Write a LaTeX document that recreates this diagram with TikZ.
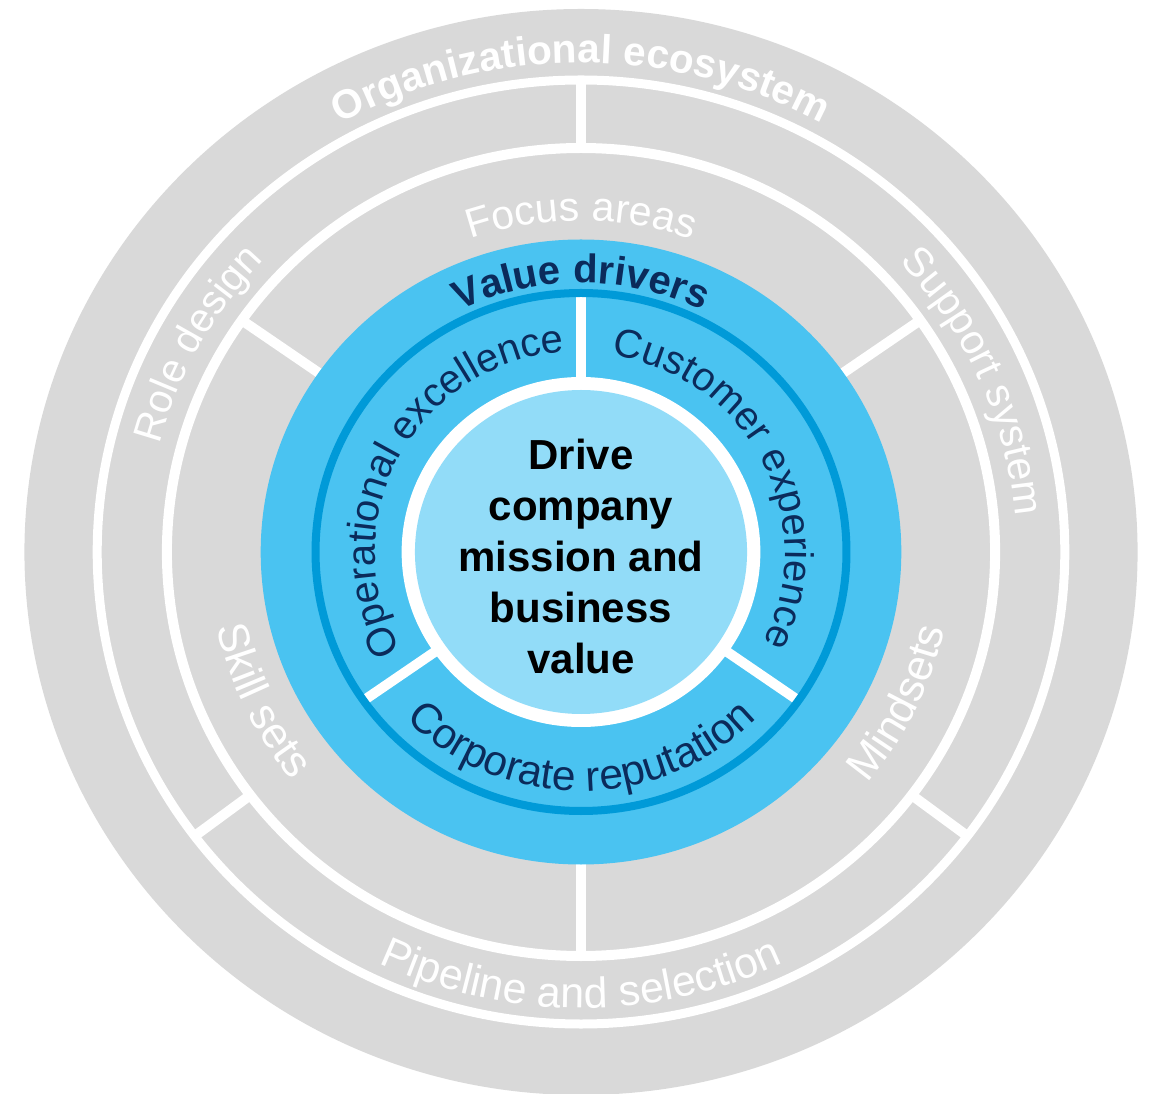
\documentclass[tikz,border=0pt]{standalone}
\usepackage{fontspec}
\setmainfont{Liberation Sans}
\usetikzlibrary{decorations.text}

\definecolor{ringgray}{HTML}{D9D9D9}
\definecolor{skyband}{HTML}{4AC3F1}
\definecolor{deepline}{HTML}{009AD8}
\definecolor{corefill}{HTML}{92DCF8}
\definecolor{navy}{HTML}{0B2B5B}

\tikzset{
  divider/.style={white, line width=10pt},
  ringline/.style={white, line width=9pt},
}

% label read clockwise over the arc (letters face outwards)
% #1 baseline radius, #2 centre angle, #3 colour, #4 font, #5 text
\newcommand\outerlabel[5]{%
  \path[decorate, decoration={text along path, text align=center,
      text color=#3, text={|#4|#5}}]
    (#2+70:#1) arc[start angle=#2+70, end angle=#2-70, radius=#1];}
% label read anticlockwise under the arc (letters face the centre)
\newcommand\innerlabel[5]{%
  \path[decorate, decoration={text along path, text align=center,
      text color=#3, text={|#4|#5}}]
    (#2-70:#1) arc[start angle=#2-70, end angle=#2+70, radius=#1];}

\newcommand\lbl[1]{\fontsize{#1}{#1}\selectfont}
\newcommand\lblb[1]{\bfseries\fontsize{#1}{#1}\selectfont}

\begin{document}
\begin{tikzpicture}[x=1pt, y=1pt]
\useasboundingbox (0,0) rectangle (1153,1093);
\begin{scope}[shift={(581,541)}, xscale=1.025]
  % grey rings
  \fill[ringgray] (0,0) circle[radius=543];
  \foreach \a in {90,217,323} \draw[divider] (\a:400) -- (\a:476);
  \foreach \a in {35,145,270} \draw[divider] (\a:300) -- (\a:408);
  \draw[ringline] (0,0) circle[radius=472];
  \draw[ringline, line width=10pt] (0,0) circle[radius=404];

  % blue value-driver rings
  \fill[skyband] (0,0) circle[radius=312.5];
  \foreach \a in {90,215,325} \draw[divider] (\a:170) -- (\a:256);
  \draw[deepline, line width=8pt] (0,0) circle[radius=259];
  \fill[white] (0,0) circle[radius=175];
  \fill[corefill] (0,0) circle[radius=162];

  \node[font=\bfseries\fontsize{42}{51}\selectfont, align=center, text=black]
    (core) at (0,-4) {Drive\\company\\mission and\\business\\value};

  % ring labels
  \outerlabel{489}{90}{white}{\lblb{40.5}}{Organizational ecosystem}
  \outerlabel{425}{151.5}{white}{\lbl{40.5}}{Role design}
  \outerlabel{425}{23.5}{white}{\lbl{41}}{Support system}
  \outerlabel{331}{90}{white}{\lbl{41}}{Focus areas}
  \outerlabel{269}{90}{navy}{\lblb{40}}{Value drivers}
  \outerlabel{201}{152}{navy}{\lbl{40}}{Operational excellence}
  \outerlabel{199}{27}{navy}{\lbl{40}}{Customer experience}
  \innerlabel{456}{270}{white}{\lbl{43}}{Pipeline and selection}
  \innerlabel{363}{205}{white}{\lbl{43.5}}{Skill sets}
  \innerlabel{363}{334.5}{white}{\lbl{43.5}}{Mindsets}
  \innerlabel{239}{270}{navy}{\lbl{42.5}}{Corporate reputation}
\end{scope}
\end{tikzpicture}
\end{document}
